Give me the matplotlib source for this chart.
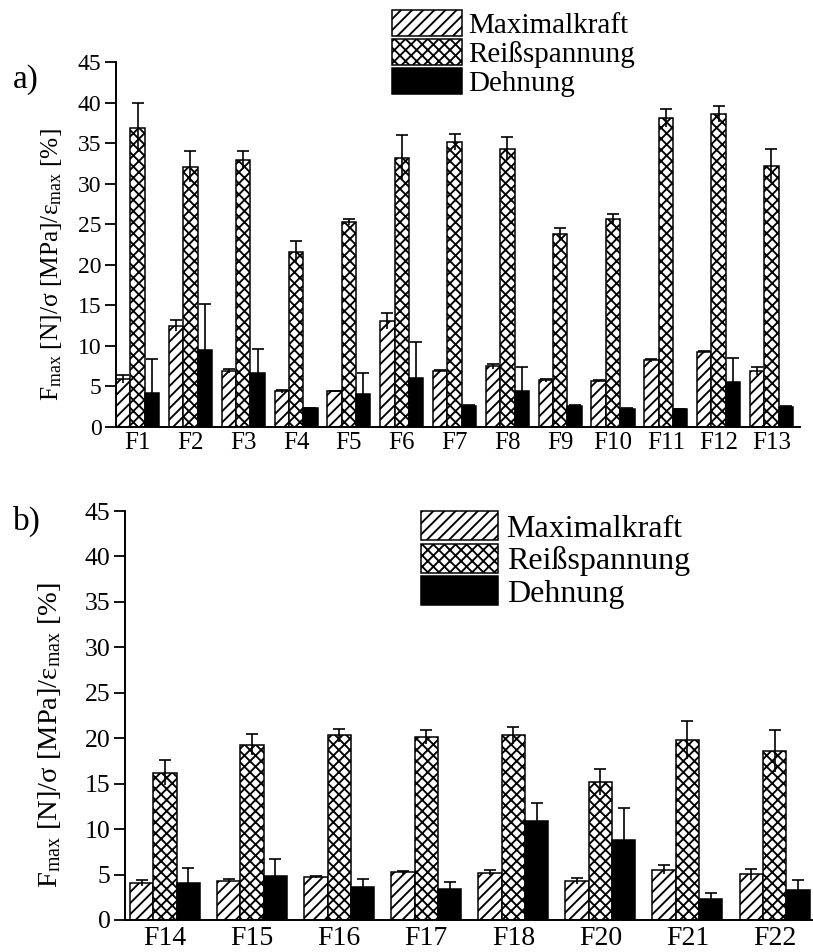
import matplotlib
matplotlib.use("Agg")
import matplotlib.pyplot as plt
import numpy as np
from matplotlib.patches import Patch

plt.rcParams['font.family'] = ['Liberation Serif', 'DejaVu Serif']
plt.rcParams['mathtext.fontset'] = 'custom'
plt.rcParams['mathtext.rm'] = 'Liberation Serif'
plt.rcParams['mathtext.it'] = 'Liberation Serif:italic'
plt.rcParams['hatch.linewidth'] = 1.35

series = ["Maximalkraft", "Reißspannung", "Dehnung"]

cats_a = ["F1", "F2", "F3", "F4", "F5", "F6", "F7", "F8", "F9", "F10", "F11", "F12", "F13"]
max_a = [5.9, 12.5, 6.9, 4.4, 4.4, 13.1, 6.9, 7.5, 5.75, 5.65, 8.2, 9.25, 6.9]
max_a_err = [0.5, 0.7, 0.2, 0.2, 0.05, 1.0, 0.15, 0.3, 0.15, 0.15, 0.2, 0.15, 0.5]
reiss_a = [36.9, 32.1, 32.9, 21.6, 25.3, 33.2, 35.1, 34.3, 23.8, 25.6, 38.1, 38.55, 32.2]
reiss_a_err = [3.0, 1.9, 1.1, 1.3, 0.4, 2.8, 1.0, 1.4, 0.7, 0.7, 1.15, 1.0, 2.1]
dehn_a = [4.2, 9.5, 6.65, 2.3, 4.1, 6.0, 2.55, 4.45, 2.55, 2.25, 2.25, 5.55, 2.5]
dehn_a_err = [4.2, 5.7, 3.0, 0.1, 2.5, 4.5, 0.15, 2.9, 0.2, 0.12, 0.0, 3.0, 0.05]

cats_b = ["F14", "F15", "F16", "F17", "F18", "F20", "F21", "F22"]
max_b = [4.1, 4.3, 4.75, 5.25, 5.2, 4.3, 5.55, 5.05]
max_b_err = [0.35, 0.22, 0.1, 0.14, 0.25, 0.37, 0.45, 0.6]
reiss_b = [16.2, 19.3, 20.3, 20.15, 20.3, 15.2, 19.8, 18.6]
reiss_b_err = [1.4, 1.2, 0.7, 0.75, 0.9, 1.4, 2.05, 2.3]
dehn_b = [4.1, 4.8, 3.6, 3.45, 10.9, 8.85, 2.3, 3.35]
dehn_b_err = [1.6, 1.9, 0.95, 0.75, 2.0, 3.5, 0.65, 1.1]

yticks = [0, 5, 10, 15, 20, 25, 30, 35, 40, 45]
ylabel = r"F$_{\mathrm{max}}$ [N]/σ [MPa]/ε$_{\mathrm{max}}$ [%]"

W, H = 813, 952
fig = plt.figure(figsize=(W / 100, H / 100), dpi=100)

def px_axes(l, r, top, bottom):
    return fig.add_axes([l / W, 1 - bottom / H, (r - l) / W, (bottom - top) / H])

styles = [dict(facecolor="white", hatch="///"),
          dict(facecolor="white", hatch="xxx"),
          dict(facecolor="black", hatch=None)]

def draw(ax, cats, vals, errs, w, capsize, xlim, tick_fs, xtick_fs, label_fs,
         xpad, ylab_xy):
    x = np.arange(len(cats))
    for k in range(3):
        pos = x + (k - 1) * w
        ax.bar(pos, vals[k], width=w, edgecolor="black", linewidth=1.1,
               zorder=2, **styles[k])
        e = np.array(errs[k])
        cont = ax.errorbar(pos, vals[k], yerr=[e, e], fmt="none", ecolor="black",
                           elinewidth=1.2, capsize=capsize, capthick=1.2, zorder=3)
        caps = cont.lines[1]
        if len(caps) == 2:
            caps[0].set_visible(False)
    ax.set_xlim(*xlim)
    ax.set_ylim(0, 45)
    ax.set_yticks(yticks)
    ax.set_xticks(x)
    ax.set_xticklabels(cats, fontsize=xtick_fs)
    ax.tick_params(axis="x", length=0, pad=xpad)
    ax.tick_params(axis="y", length=8, width=1.3, labelsize=tick_fs, pad=2.5)
    for s in ["top", "right"]:
        ax.spines[s].set_visible(False)
    for s in ["left", "bottom"]:
        ax.spines[s].set_linewidth(1.4)
    ax.set_ylabel(ylabel, fontsize=label_fs)
    ax.yaxis.set_label_coords(*ylab_xy)

ax_a = px_axes(116, 800, 62, 427)
draw(ax_a, cats_a, [max_a, reiss_a, dehn_a], [max_a_err, reiss_a_err, dehn_a_err],
     0.272, 4.3, (-0.41, 12.54), 17, 18, 18.3, 3.5,
     ((64 - 116) / 684, (427 - 265) / 365))

ax_b = px_axes(125, 812, 511, 920)
draw(ax_b, cats_b, [max_b, reiss_b, dehn_b], [max_b_err, reiss_b_err, dehn_b_err],
     0.268, 4.3, (-0.46, 7.43), 18.5, 20, 20.5, 4.5,
     ((63 - 125) / 687, (920 - 735) / 409))

def legend(ax, x0, y0, fs, hl, hh, ls, tp):
    handles = [Patch(edgecolor="black", linewidth=1.1, **styles[k]) for k in range(3)]
    ax.legend(handles, series, loc="upper left", bbox_to_anchor=(x0 / W, 1 - y0 / H),
              bbox_transform=fig.transFigure, frameon=False, fontsize=fs,
              handlelength=hl, handleheight=hh, labelspacing=ls, handletextpad=tp,
              borderpad=0, borderaxespad=0)

legend(ax_a, 392, 10, 21, 2.4, 1.0, 0.0, 0.2)
legend(ax_b, 421, 511, 23, 2.4, 1.03, 0.0, 0.28)

fig.text(13 / W, 1 - 80 / H, "a)", fontsize=24, va="center", ha="left")
fig.text(13 / W, 1 - 521 / H, "b)", fontsize=24, va="center", ha="left")

fig.savefig("out.png", dpi=100)
